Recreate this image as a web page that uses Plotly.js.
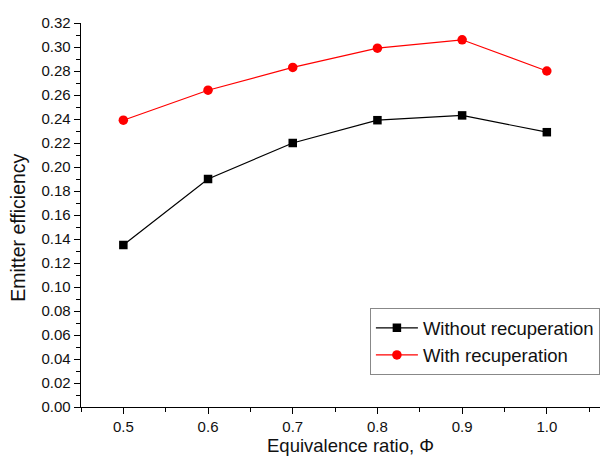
<!DOCTYPE html>
<html><head><meta charset="utf-8">
<script src="https://cdn.plot.ly/plotly-3.0.1.min.js"></script>
<style>html,body{margin:0;padding:0;overflow:hidden;background:#fff}#chart{width:620px;height:466px}</style>
</head><body><div id="chart"></div>
<script>
const phi = [0.5, 0.6, 0.7, 0.8, 0.9, 1.0];
const withoutRecup = [0.135, 0.190, 0.220, 0.239, 0.243, 0.229];
const withRecup = [0.239, 0.264, 0.283, 0.299, 0.306, 0.280];
const xTicks = [0.5, 0.6, 0.7, 0.8, 0.9, 1.0];
const xTickText = ['0.5', '0.6', '0.7', '0.8', '0.9', '1.0'];
const yTitle = 'Emitter efficiency';
const xTitle = 'Equivalence ratio, Φ';

const F = 'Arial, "Liberation Sans", sans-serif';
const traces = [
  {x: phi, y: withoutRecup, name: 'Without recuperation', mode: 'lines+markers',
   line: {color: '#000', width: 1.2}, marker: {symbol: 'square', size: 8.5, color: '#000'}},
  {x: phi, y: withRecup, name: 'With recuperation', mode: 'lines+markers',
   line: {color: '#ff0000', width: 1.2}, marker: {symbol: 'circle', size: 9.5, color: '#ff0000'}}
];
const layout = {
  width: 620, height: 466,
  margin: {l: 81, r: 0, t: 23, b: 59},
  paper_bgcolor: '#fff', plot_bgcolor: '#fff',
  font: {family: F, color: '#111'},
  showlegend: true,
  legend: {x: 0.536, y: 0.257, xanchor: 'left', yanchor: 'top',
    bordercolor: '#888', borderwidth: 1, bgcolor: '#fff', itemwidth: 42,
    font: {family: F, size: 18.5, color: '#111'}, tracegroupgap: 0},
  xaxis: {range: [0.45, 1.0864], showline: true, linecolor: '#000', linewidth: 1.3,
    showgrid: false, zeroline: false, ticks: 'outside', ticklen: 6, tickcolor: '#000',
    tickvals: xTicks, ticktext: xTickText, tickfont: {family: F, size: 15, color: '#111'},
    minor: {tick0: 0.45, dtick: 0.05, ticks: 'outside', ticklen: 3.5, tickcolor: '#000', showgrid: false},
    title: {text: xTitle, font: {family: F, size: 18.5, color: '#111'}, standoff: 0}},
  yaxis: {range: [0, 0.32], showline: true, linecolor: '#000', linewidth: 1.3,
    showgrid: false, zeroline: false, ticks: 'outside', ticklen: 6, tickcolor: '#000',
    dtick: 0.02, tick0: 0, tickformat: '.2f', tickfont: {family: F, size: 15, color: '#111'},
    minor: {dtick: 0.01, ticks: 'outside', ticklen: 3.5, tickcolor: '#000', showgrid: false}},
  annotations: [{text: yTitle, xref: 'paper', yref: 'paper', x: -0.116, y: 0.468,
    xanchor: 'center', yanchor: 'middle', textangle: -90, showarrow: false,
    font: {family: F, size: 19.5, color: '#111'}}]
};
Plotly.newPlot('chart', traces, layout, {displayModeBar: false, staticPlot: true});
</script></body></html>
